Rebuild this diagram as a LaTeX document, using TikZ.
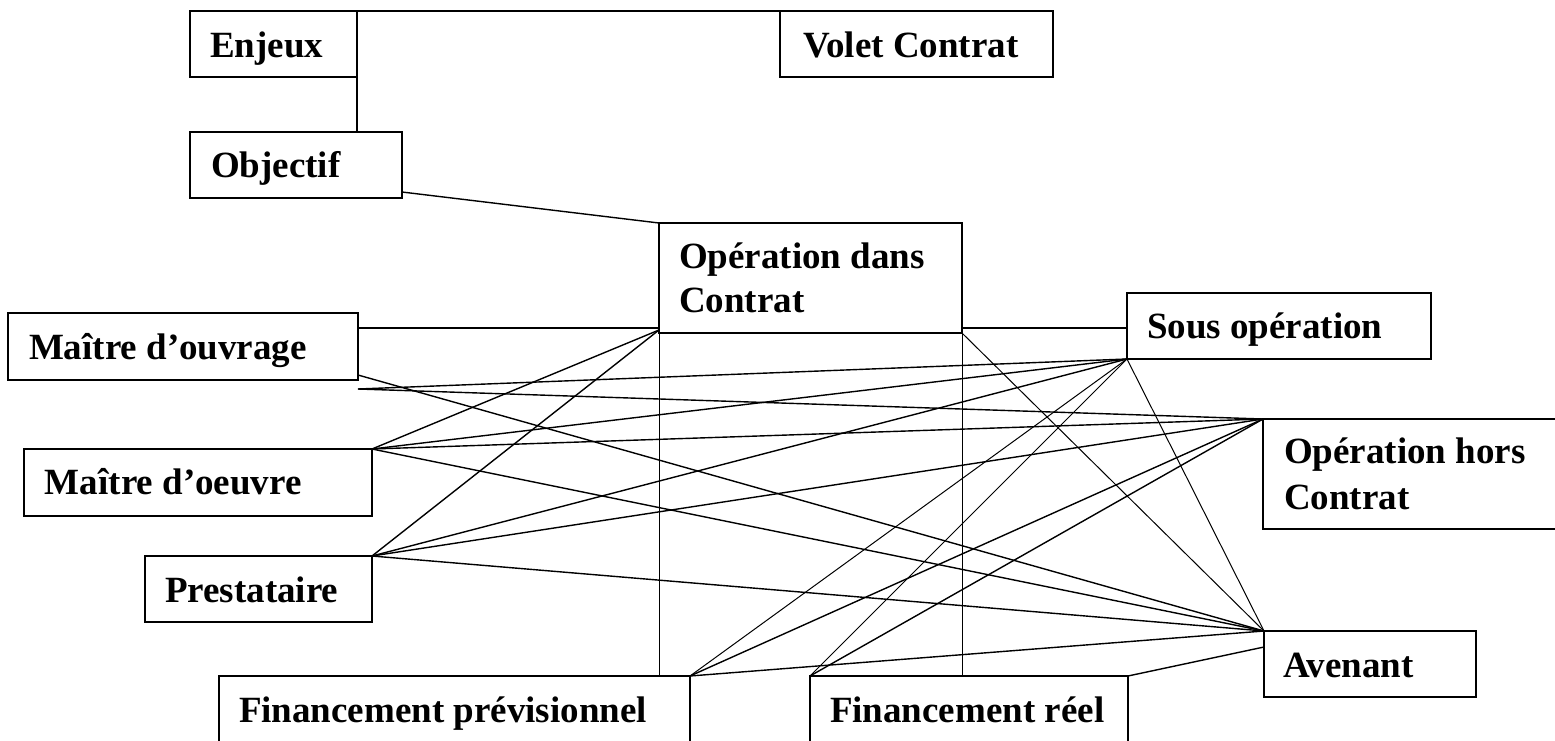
\documentclass[tikz,border=0pt]{standalone}
\usepackage{fontspec}
\setmainfont{Liberation Serif}
\usetikzlibrary{calc}
\tikzset{
  box/.style={draw, line width=0.85pt, inner sep=0pt, outer sep=0pt, anchor=north west},
  lbl/.style={anchor=base west, inner sep=0pt, outer sep=0pt, font=\fontsize{18.5pt}{22pt}\selectfont\bfseries},
  conn/.style={line width=0.7pt},
  thin conn/.style={line width=0.5pt},
}
\begin{document}
\begin{tikzpicture}[x=0.5pt, y=-0.5pt]
\useasboundingbox (0,0) rectangle (1555,740);
\fill[white] (0,0) rectangle (1555,740);
\clip (0,0) rectangle (1555,740);
% boxes
\node[box, minimum width=83.5pt,  minimum height=33pt] (Enjeux)  at (190,11) {};
\node[box, minimum width=136.5pt, minimum height=33pt] (Volet)   at (780,11) {};
\node[box, minimum width=106pt,   minimum height=33pt] (Objectif) at (190,132) {};
\node[box, minimum width=151.5pt, minimum height=55pt] (OpDans)  at (659,223) {};
\node[box, minimum width=152pt,   minimum height=33pt] (SousOp)  at (1127,293) {};
\node[box, minimum width=175pt,   minimum height=33.5pt] (MO)    at (8,313) {};
\node[box, minimum width=174pt,   minimum height=33.5pt] (MOE)   at (24,449) {};
\node[box, minimum width=113.5pt, minimum height=33pt] (Prest)   at (145,556) {};
\node[box, minimum width=153.5pt, minimum height=55pt] (OpHors)  at (1263,419) {};
\node[box, minimum width=106pt,   minimum height=33pt] (Avenant) at (1264,631) {};
\node[box, minimum width=235.5pt, minimum height=42pt] (FinPrev) at (219,676) {};
\node[box, minimum width=159pt,   minimum height=42pt] (FinReel) at (810,676) {};
% labels
\node[lbl] (tEnjeux) at (210,57) {Enjeux};
\node[lbl] (tVolet) at (803,57) {Volet Contrat};
\node[lbl] (tObj) at (211,177) {Objectif};
\node[lbl] (tOpD1) at (679,268) {Opération dans};
\node[lbl] (tOpD2) at (679,312) {Contrat};
\node[lbl] (tSous) at (1147,338) {Sous opération};
\node[lbl] (tMO) at (29,359) {Maître d’ouvrage};
\node[lbl] (tMOE) at (45,494) {Maître d’oeuvre};
\node[lbl] (tPrest) at (165,602) {Prestataire};
\node[lbl] (tOpH1) at (1284,463) {Opération hors};
\node[lbl] (tOpH2) at (1284,509) {Contrat};
\node[lbl] (tAv) at (1283,677) {Avenant};
\node[lbl] (tFP) at (239,722) {Financement prévisionnel};
\node[lbl] (tFR) at (830,722) {Financement réel};
% anchor points
\coordinate (objE) at ($(Objectif.south east)+(0,-6)$);
\coordinate (moA) at ($(MO.north east)+(0,15)$);
\coordinate (moB) at ($(MO.south east)+(0,-5)$);
\coordinate (moC) at ($(MO.south east)+(0,9)$);
\coordinate (odSW) at ($(OpDans.south west)+(0,-3)$);
\coordinate (odE) at ($(OpDans.south east)+(0,-5)$);
\coordinate (avL) at ($(Avenant.north west)+(0,16)$);
% connectors
\draw[conn] (Enjeux.north east) -- (Volet.north west);
\draw[conn] (Enjeux.south east) -- (Enjeux.south east |- Objectif.north);
\draw[conn] (objE) -- (OpDans.north west);
\draw[conn] (moA) -- (moA -| OpDans.west);
\draw[conn] (odE) -- (odE -| SousOp.west);
\draw[conn] (odSW) -- (MOE.north east);
\draw[conn] (odSW) -- (Prest.north east);
\draw[thin conn] (OpDans.south west) -- (OpDans.south west |- FinPrev.north);
\draw[thin conn] (OpDans.south east) -- (OpDans.south east |- FinReel.north);
\draw[thin conn] (OpDans.south east) -- (Avenant.north west);
\draw[conn] (moC) -- (SousOp.south west);
\draw[conn] (moC) -- (OpHors.north west);
\draw[conn] (moB) -- (Avenant.north west);
\draw[conn] (MOE.north east) -- (SousOp.south west);
\draw[conn] (MOE.north east) -- (OpHors.north west);
\draw[conn] (MOE.north east) -- (Avenant.north west);
\draw[conn] (Prest.north east) -- (SousOp.south west);
\draw[conn] (Prest.north east) -- (OpHors.north west);
\draw[conn] (Prest.north east) -- (Avenant.north west);
\draw[thin conn] (SousOp.south west) -- (FinPrev.north east);
\draw[thin conn] (SousOp.south west) -- (FinReel.north west);
\draw[thin conn] (SousOp.south west) -- (Avenant.north west);
\draw[conn] (OpHors.north west) -- (FinPrev.north east);
\draw[conn] (OpHors.north west) -- (FinReel.north west);
\draw[conn] (FinPrev.north east) -- (Avenant.north west);
\draw[conn] (FinReel.north east) -- (avL);
\end{tikzpicture}
\end{document}
